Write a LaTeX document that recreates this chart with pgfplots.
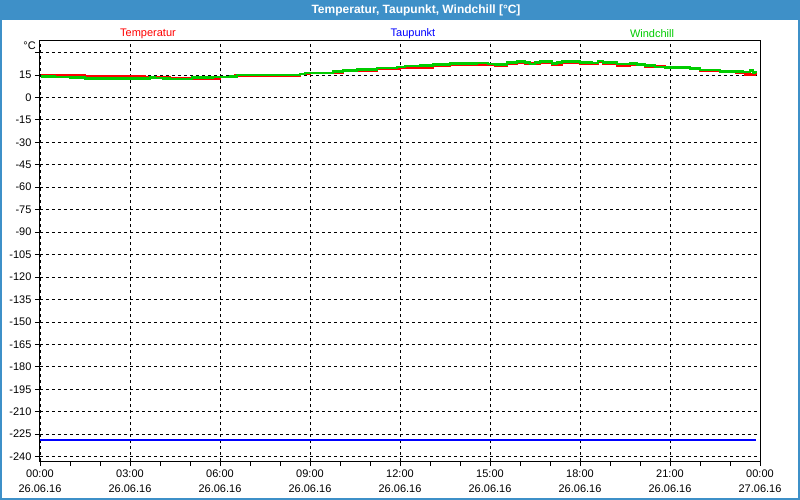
\documentclass[border=0pt]{standalone}
\usepackage{fontspec}
\setmainfont{Liberation Sans}
\usepackage{pgfplots}
\pgfplotsset{compat=1.18}
\definecolor{barblue}{RGB}{62,144,200}
\definecolor{tred}{RGB}{255,0,0}
\definecolor{tblue}{RGB}{0,0,255}
\definecolor{tgreen}{RGB}{0,204,0}
\begin{document}
\begin{tikzpicture}
\useasboundingbox (0pt,0pt) rectangle (800pt,-500pt);
\fill[white] (0pt,0pt) rectangle (800pt,-500pt);
\fill[barblue] (0pt,0pt) rectangle (800pt,-20.5pt);
\draw[barblue, line width=2pt] (1pt,-1pt) rectangle (799pt,-499pt);
\node[text=white, font=\bfseries\fontsize{12}{14}\selectfont] at (416pt,-10.5pt) {Temperatur, Taupunkt, Windchill [°C]};
\begin{axis}[
  at={(40pt,-40.5pt)}, anchor=north west,
  scale only axis, width=720pt, height=420.5pt,
  clip mode=individual,
  xmin=0, xmax=24, ymin=-242.9, ymax=38,
  xtick={0,3,...,24},
  minor xtick={1,2,4,5,7,8,10,11,13,14,16,17,19,20,22,23},
  xticklabels={{00:00\\26.06.16},{03:00\\26.06.16},{06:00\\26.06.16},{09:00\\26.06.16},{12:00\\26.06.16},{15:00\\26.06.16},{18:00\\26.06.16},{21:00\\26.06.16},{00:00\\27.06.16}},
  xticklabel style={align=center, font=\fontsize{11}{15}\selectfont},
  ytick={-240,-225,...,30},
  yticklabels={-240,-225,-210,-195,-180,-165,-150,-135,-120,-105,-90,-75,-60,-45,-30,-15,0,15,{}},
  yticklabel style={font=\fontsize{11}{13}\selectfont},
  grid=major,
  major grid style={black, line width=0.8pt, dash pattern=on 3pt off 3pt},
  xtick pos=bottom, ytick pos=left, tick align=outside,
  major tick length=5pt, minor tick length=5pt,
  tick style={black, line width=0.8pt},
  axis line style={black, line width=1pt},
]
\addplot[tred, line width=2.6pt, const plot] coordinates {
(0.03,15.0) (0.5,14.5) (1.5,14.1) (2.5,13.8) (3.5,13.4) (4.33,12.6) (5.0,12.5) (5.4,12.8) (6.0,13.5) (6.5,14.5) (7.0,14.8) (8.17,14.8) (8.67,15.5) (9.0,16.2) (10.1,17.6) (10.6,18.0) (11.23,19.0) (12.0,20.0) (12.33,20.0) (13.1,21.0) (13.67,21.7) (14.57,22.0) (15.17,21.0) (15.57,22.3) (15.9,23.3) (16.17,22.5) (16.5,22.5) (16.67,23.2) (17.07,22.0) (17.4,23.2) (18.0,22.8) (18.4,22.6) (18.6,23.8) (18.77,22.4) (19.23,21.3) (19.67,22.0) (19.9,21.5) (20.17,20.8) (20.83,19.5) (21.67,19.0) (22.0,17.8) (22.67,17.0) (23.2,16.3) (23.5,15.4) (23.87,15.0)
};
\addplot[tblue, line width=2pt] coordinates {(0,-229) (23.87,-229)};
\addplot[tgreen, line width=2.6pt, const plot] coordinates {
(0.03,14.1) (0.5,13.5) (1.0,13.2) (1.5,12.6) (3.5,12.6) (3.67,13.2) (3.83,13.0) (4.1,12.6) (4.33,12.4) (5.07,13.2) (5.77,13.7) (6.33,14.1) (6.57,15.0) (8.57,15.0) (8.67,15.6) (8.83,16.3) (9.5,16.4) (9.77,17.1) (10.1,18.0) (10.57,18.5) (10.9,18.8) (11.23,19.5) (11.9,20.2) (12.17,20.9) (12.33,21.0) (12.67,21.3) (13.1,21.9) (13.43,22.0) (13.67,22.6) (14.57,23.0) (14.93,22.4) (15.17,21.8) (15.57,23.2) (15.9,24.0) (16.17,23.2) (16.33,22.4) (16.5,23.3) (16.67,24.0) (17.07,22.6) (17.23,23.4) (17.4,24.0) (18.0,23.5) (18.4,23.0) (18.6,24.3) (18.77,23.2) (19.23,22.3) (19.67,22.7) (19.9,22.0) (20.17,21.2) (20.5,20.4) (20.83,19.8) (21.67,19.3) (22.0,18.3) (22.67,17.4) (23.43,17.0) (23.67,17.8) (23.77,16.8) (23.87,16.1)
};
\node[anchor=east, inner sep=0pt, font=\fontsize{11}{13}\selectfont] at ([xshift=-4pt, yshift=-5pt]rel axis cs:0,1) {°C};
\node[text=tred, font=\fontsize{11}{13}\selectfont] at ([yshift=7pt]rel axis cs:0.15,1) {Temperatur};
\node[text=tblue, font=\fontsize{11}{13}\selectfont] at ([yshift=7pt]rel axis cs:0.518,1) {Taupunkt};
\node[text=tgreen, font=\fontsize{11}{13}\selectfont] at ([yshift=7pt]rel axis cs:0.85,1) {Windchill};
\end{axis}
\end{tikzpicture}
\end{document}
